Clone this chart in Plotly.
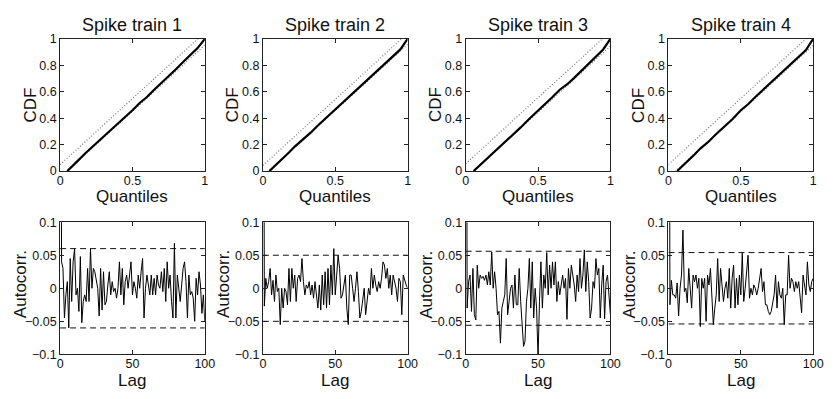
import plotly.graph_objects as go

titles = ["Spike train 1", "Spike train 2", "Spike train 3", "Spike train 4"]

# KS plot data (model quantiles vs empirical CDF)
cdf_q1 = [0.05, 0.08, 0.12, 0.18, 0.22, 0.28, 0.33, 0.38, 0.44, 0.5, 0.55, 0.6, 0.65, 0.7, 0.75, 0.8, 0.85, 0.9, 0.95, 1.0]
cdf_v1 = [0.0, 0.03, 0.075, 0.14, 0.18, 0.235, 0.285, 0.335, 0.4, 0.46, 0.515, 0.56, 0.615, 0.665, 0.72, 0.77, 0.825, 0.875, 0.93, 1.0]
cdf_q2 = [0.045, 0.08, 0.12, 0.18, 0.22, 0.28, 0.33, 0.38, 0.44, 0.5, 0.55, 0.6, 0.65, 0.7, 0.75, 0.8, 0.85, 0.9, 0.95, 1.0]
cdf_v2 = [0.0, 0.035, 0.08, 0.14, 0.185, 0.24, 0.29, 0.345, 0.405, 0.465, 0.515, 0.565, 0.615, 0.665, 0.715, 0.77, 0.815, 0.865, 0.92, 1.0]
cdf_q3 = [0.055, 0.08, 0.12, 0.18, 0.22, 0.28, 0.33, 0.38, 0.44, 0.5, 0.55, 0.6, 0.65, 0.7, 0.75, 0.8, 0.85, 0.9, 0.95, 1.0]
cdf_v3 = [0.0, 0.025, 0.065, 0.125, 0.17, 0.225, 0.275, 0.33, 0.395, 0.455, 0.51, 0.56, 0.615, 0.655, 0.705, 0.76, 0.815, 0.865, 0.92, 1.0]
cdf_q4 = [0.06, 0.09, 0.12, 0.18, 0.22, 0.28, 0.33, 0.38, 0.44, 0.5, 0.55, 0.6, 0.65, 0.7, 0.75, 0.8, 0.85, 0.9, 0.95, 1.0]
cdf_v4 = [0.0, 0.03, 0.06, 0.125, 0.17, 0.225, 0.28, 0.33, 0.39, 0.46, 0.505, 0.56, 0.61, 0.66, 0.71, 0.765, 0.815, 0.865, 0.915, 1.0]
ks_bound = [0.048, 0.042, 0.055, 0.05]

# Autocorrelation data
lags = list(range(101))
acf1 = [1.0, 0.04, 0.03, -0.045, -0.01, 0.01, -0.06, 0.045, -0.02, 0.04,
        0.06, -0.01, 0.0, -0.035, 0.048, -0.052, -0.02, -0.01, -0.02, 0.03,
        -0.02, 0.06, 0.0, 0.03, 0.025, 0.01, 0.0, -0.042, 0.03, -0.033,
        0.025, -0.025, -0.02, 0.005, 0.025, -0.01, 0.01, -0.005, 0.0, -0.015,
        0.0, 0.04, -0.01, 0.03, -0.025, 0.01, 0.02, 0.0, 0.02, 0.04,
        -0.01, 0.01, 0.0, -0.015, 0.02, 0.0, 0.025, 0.045, -0.045, 0.0,
        0.02, 0.005, -0.01, 0.02, -0.01, 0.015, -0.01, 0.02, 0.005, 0.0,
        0.025, -0.005, 0.03, -0.02, 0.04, 0.0, 0.02, -0.02, -0.045, 0.068,
        -0.045, 0.02, 0.0, -0.02, 0.005, 0.03, 0.04, 0.01, -0.045, 0.02,
        -0.01, -0.005, -0.015, -0.05, 0.015, -0.01, 0.025, 0.005, -0.038, -0.01,
        -0.05]
acf2 = [1.0, -0.027, 0.015, 0.0, 0.01, 0.03, -0.01, 0.012, -0.02, 0.02,
        -0.005, 0.0, -0.055, 0.0, -0.03, 0.0, -0.005, -0.025, 0.03, -0.02,
        0.03, 0.0, 0.02, -0.02, 0.015, 0.02, 0.01, 0.045, 0.01, -0.01,
        0.005, 0.0, 0.01, -0.01, 0.005, -0.015, 0.01, -0.01, -0.03, 0.005,
        -0.033, 0.02, -0.025, 0.025, -0.03, 0.03, -0.025, 0.035, -0.01, 0.06,
        -0.01, 0.02, 0.05, 0.03, -0.015, -0.01, 0.005, 0.02, -0.03, -0.055,
        0.02, 0.02, 0.0, -0.02, 0.0, 0.025, -0.005, -0.045, -0.035, -0.02,
        0.0, -0.04, -0.02, 0.0, -0.01, 0.03, 0.0, 0.02, 0.005, -0.005,
        0.01, 0.0, 0.015, 0.04, 0.035, 0.015, 0.03, 0.0, 0.02, -0.01,
        0.02, 0.01, 0.0, -0.02, 0.015, 0.01, -0.04, 0.02, 0.01, 0.005,
        0.0]
acf3 = [1.0, -0.03, 0.01, 0.02, -0.035, 0.03, -0.04, -0.048, 0.035, 0.0,
        0.02, 0.015, 0.018, 0.012, 0.02, 0.005, 0.025, 0.005, 0.055, 0.0,
        0.025, 0.0, -0.04, -0.035, -0.083, -0.03, -0.02, -0.01, 0.045, -0.04,
        -0.02, 0.0, 0.005, -0.03, 0.02, -0.025, -0.025, 0.03, -0.02, -0.05,
        -0.088, -0.08, -0.02, 0.0, 0.045, -0.03, 0.04, -0.045, 0.0, -0.03,
        -0.105, -0.02, 0.04, -0.03, 0.02, 0.0, 0.054, -0.01, 0.035, 0.0,
        0.04, 0.005, 0.04, -0.02, 0.01, -0.01, 0.005, 0.02, 0.0, 0.015,
        -0.047, 0.03, 0.0, 0.035, 0.02, 0.005, -0.02, 0.02, -0.005, 0.045,
        0.0, 0.02, 0.058, -0.005, 0.04, 0.01, -0.045, -0.03, 0.01, 0.0,
        0.045, 0.02, 0.03, -0.045, 0.005, 0.035, -0.046, 0.01, 0.02, -0.01,
        -0.04]
acf4 = [1.0, -0.025, 0.012, -0.01, -0.01, -0.015, 0.008, -0.042, 0.0, 0.02,
        0.088, -0.005, 0.0, -0.022, 0.03, -0.01, -0.03, 0.02, 0.01, 0.02,
        0.0, 0.015, -0.058, 0.015, 0.0, 0.015, -0.05, 0.02, 0.005, 0.03,
        -0.025, -0.055, -0.03, -0.01, 0.045, -0.02, 0.03, 0.0, -0.02, 0.0,
        0.01, -0.015, 0.03, -0.03, 0.015, 0.035, -0.03, 0.015, -0.025, 0.02,
        -0.01, 0.053, -0.02, 0.0, 0.025, 0.05, -0.015, 0.0, -0.01, 0.005,
        0.0, -0.01, 0.0, 0.015, 0.03, -0.005, 0.01, -0.025, -0.025, -0.035,
        -0.04, -0.035, -0.02, -0.01, 0.02, -0.03, 0.01, -0.01, -0.015, 0.0,
        -0.055, -0.01, -0.01, 0.05, 0.0, 0.015, 0.01, -0.005, 0.01, 0.0,
        0.01, -0.01, -0.037, 0.02, 0.005, -0.01, 0.04, 0.005, -0.005, 0.01,
        0.015]
acf_bound = [0.06, 0.05, 0.056, 0.054]

cdf_q = [cdf_q1, cdf_q2, cdf_q3, cdf_q4]
cdf_v = [cdf_v1, cdf_v2, cdf_v3, cdf_v4]
acfs = [acf1, acf2, acf3, acf4]

W, H = 835, 399
x_px = [(58, 205), (264, 411), (470, 617), (676, 823)]
top_px = (33, 170)
bot_px = (223, 360)

FONT = "Liberation Sans, Arial, Helvetica, sans-serif"
fig = go.Figure()
layout = dict(
    width=W, height=H, margin=dict(l=0, r=0, t=0, b=0),
    paper_bgcolor="white", plot_bgcolor="white", showlegend=False,
    font=dict(family=FONT, size=13, color="#111"),
)
annotations = []

def ax_common():
    return dict(showgrid=False, zeroline=False, showline=True, linecolor="#222",
                linewidth=1, mirror="allticks", ticks="inside", ticklen=4,
                tickcolor="#222", tickfont=dict(size=12.5, color="#111"))

for i in range(4):
    xd = [x_px[i][0] / W, x_px[i][1] / W]
    yt = [1 - top_px[1] / H, 1 - top_px[0] / H]
    yb = [1 - bot_px[1] / H, 1 - bot_px[0] / H]
    nt = i + 1
    nb = i + 5
    xt, ytn = f"x{nt}", f"y{nt}"
    xb, ybn = f"x{nb}", f"y{nb}"
    # top: KS plot
    b = ks_bound[i]
    fig.add_trace(go.Scatter(x=[0, 1], y=[b, 1 + b], mode="lines", xaxis=xt, yaxis=ytn,
                             line=dict(color="#777", width=1.2, dash="1px,2px"), hoverinfo="skip"))
    fig.add_trace(go.Scatter(x=[0, 1], y=[-b, 1 - b], mode="lines", xaxis=xt, yaxis=ytn,
                             line=dict(color="#777", width=1.2, dash="1px,2px"), hoverinfo="skip"))
    fig.add_trace(go.Scatter(x=cdf_q[i], y=cdf_v[i], mode="lines", xaxis=xt, yaxis=ytn,
                             line=dict(color="black", width=2.2)))
    # bottom: autocorrelation
    ab = acf_bound[i]
    fig.add_trace(go.Scatter(x=lags, y=acfs[i], mode="lines", xaxis=xb, yaxis=ybn,
                             line=dict(color="black", width=1)))
    for s in (1, -1):
        fig.add_trace(go.Scatter(x=[lags[0], lags[-1]], y=[s * ab, s * ab], mode="lines",
                                 xaxis=xb, yaxis=ybn,
                                 line=dict(color="#111", width=1, dash="6px,4px"), hoverinfo="skip"))

    a = ax_common()
    a.update(domain=xd, anchor=ytn, range=[0, 1], tickvals=[0, 0.5, 1], ticktext=["0", "0.5", "1"],
             ticklabelstandoff=-2)
    layout[f"xaxis{nt}"] = a
    a = ax_common()
    a.update(domain=yt, anchor=xt, range=[0, 1], tickvals=[0, 0.2, 0.4, 0.6, 0.8, 1],
             ticktext=["0", "0.2", "0.4", "0.6", "0.8", "1"])
    layout[f"yaxis{nt}"] = a
    a = ax_common()
    a.update(domain=xd, anchor=ybn, range=[0, 100], tickvals=[0, 50, 100], ticktext=["0", "50", "100"],
             ticklabelstandoff=-2)
    layout[f"xaxis{nb}"] = a
    a = ax_common()
    a.update(domain=yb, anchor=xb, range=[-0.1, 0.1], tickvals=[-0.1, -0.05, 0, 0.05, 0.1],
             ticktext=["\u22120.1", "\u22120.05", "0", "0.05", "0.1"])
    layout[f"yaxis{nb}"] = a

    cx = (x_px[i][0] + x_px[i][1]) / 2 / W
    annotations.append(dict(text=titles[i], x=cx, y=1 - 19 / H, xref="paper", yref="paper",
                            showarrow=False, xanchor="center", yanchor="middle",
                            font=dict(size=18, color="#111")))
    annotations.append(dict(text="Quantiles", x=cx, y=1 - 196 / H, xref="paper", yref="paper",
                            showarrow=False, xanchor="center", yanchor="middle",
                            font=dict(size=17, color="#111")))
    annotations.append(dict(text="Lag", x=cx, y=1 - 387 / H, xref="paper", yref="paper",
                            showarrow=False, xanchor="center", yanchor="middle",
                            font=dict(size=17, color="#111")))
    annotations.append(dict(text="CDF", x=(x_px[i][0] - 30) / W, y=1 - (sum(top_px) / 2) / H,
                            xref="paper", yref="paper", showarrow=False, textangle=-90,
                            xanchor="center", yanchor="middle", font=dict(size=17, color="#111")))
    annotations.append(dict(text="Autocorr.", x=(x_px[i][0] - 40) / W, y=1 - (sum(bot_px) / 2 - 4) / H,
                            xref="paper", yref="paper", showarrow=False, textangle=-90,
                            xanchor="center", yanchor="middle", font=dict(size=17, color="#111")))

layout["annotations"] = annotations
fig.update_layout(**layout)
fig.write_html("out.html", config={"displayModeBar": False},
               post_script="document.body.style.margin='0';document.body.style.overflow='hidden';")
